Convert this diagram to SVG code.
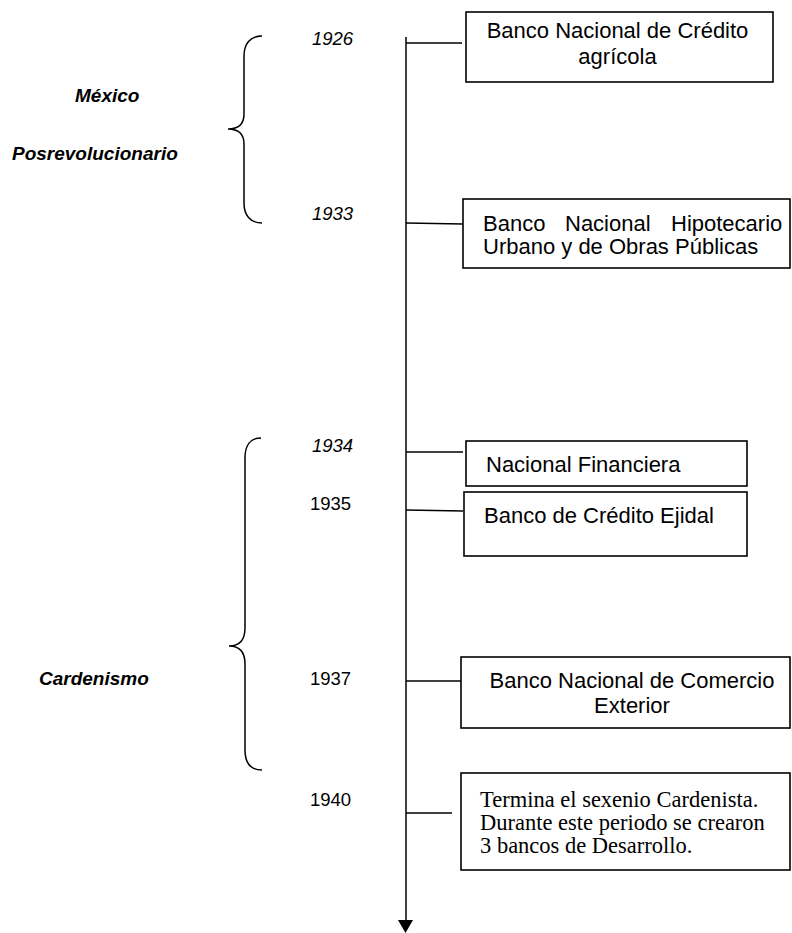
<svg xmlns="http://www.w3.org/2000/svg" width="792" height="933" viewBox="0 0 792 933">
<style>
.box{fill:#fff;stroke:#000;stroke-width:1.6}
.ln{fill:none;stroke:#000;stroke-width:1.5}
.t{font-family:"Liberation Sans",Arial,sans-serif;font-size:22px;fill:#000}
.tc{text-anchor:middle}
.y{font-family:"Liberation Sans",Arial,sans-serif;font-size:18.5px;fill:#000}
.yi{font-style:italic}
.g{font-family:"Liberation Sans",Arial,sans-serif;font-size:19px;font-weight:bold;font-style:italic;fill:#000}
.tr{font-family:"Liberation Serif","Times New Roman",serif;font-size:22.5px;fill:#000}
</style>
<rect width="792" height="933" fill="#fff"/>
<g id="braces">
<path class="ln" d="M262,36 C250,36 244,44 244,56 L244,114 C244,124 238,129 228,129 C238,129 244,134 244,144 L244,203 C244,215 250,223 262,223"/>
<path class="ln" d="M261,438 C250,438 245,446 245,458 L245,628 C245,640 239,646 229,646 C239,646 245,652 245,664 L245,750 C245,762 250,770 262,770"/>
</g>
<g id="labels">
<text class="g" x="75" y="102">México</text>
<text class="g" x="12" y="160">Posrevolucionario</text>
<text class="g" x="39" y="685">Cardenismo</text>
<text class="y yi" x="312" y="45">1926</text>
<text class="y yi" x="312" y="220">1933</text>
<text class="y yi" x="312" y="452">1934</text>
<text class="y" x="310" y="510">1935</text>
<text class="y" x="310" y="685">1937</text>
<text class="y" x="310" y="806">1940</text>
</g>
<g id="connectors">
<line class="ln" x1="406" y1="37" x2="406" y2="921"/>
<polygon points="398,920 413,920 405.5,933" fill="#000"/>
<line class="ln" x1="406" y1="43" x2="462" y2="43"/>
<line class="ln" x1="406" y1="223" x2="463" y2="224"/>
<line class="ln" x1="406" y1="452" x2="463" y2="452"/>
<line class="ln" x1="406" y1="510" x2="463" y2="511"/>
<line class="ln" x1="406" y1="681" x2="461" y2="681"/>
<line class="ln" x1="406" y1="813" x2="452" y2="813"/>
</g>
<g id="n1926">
<rect class="box" x="466" y="12" width="307" height="70"/>
<text class="t tc" x="617.5" y="38">Banco Nacional de Crédito</text>
<text class="t tc" x="617.5" y="64">agrícola</text>
</g>
<g id="n1933">
<rect class="box" x="463" y="199" width="327" height="69"/>
<text class="t" x="483" y="231">Banco</text>
<text class="t" x="565" y="231">Nacional</text>
<text class="t" x="671" y="231">Hipotecario</text>
<text class="t" x="483" y="254">Urbano y de Obras Públicas</text>
</g>
<g id="n1934">
<rect class="box" x="466" y="441" width="281" height="45"/>
<text class="t" x="486" y="472">Nacional Financiera</text>
</g>
<g id="n1935">
<rect class="box" x="464" y="492" width="283" height="64"/>
<text class="t" x="484" y="523">Banco de Crédito Ejidal</text>
</g>
<g id="n1937">
<rect class="box" x="461" y="657" width="329" height="71"/>
<text class="t tc" x="632" y="688">Banco Nacional de Comercio</text>
<text class="t tc" x="632" y="713">Exterior</text>
</g>
<g id="n1940">
<rect class="box" x="461" y="773" width="329" height="97"/>
<text class="tr" x="480" y="807">Termina el sexenio Cardenista.</text>
<text class="tr" x="480" y="830">Durante este periodo se crearon</text>
<text class="tr" x="480" y="853">3 bancos de Desarrollo.</text>
</g>
</svg>
